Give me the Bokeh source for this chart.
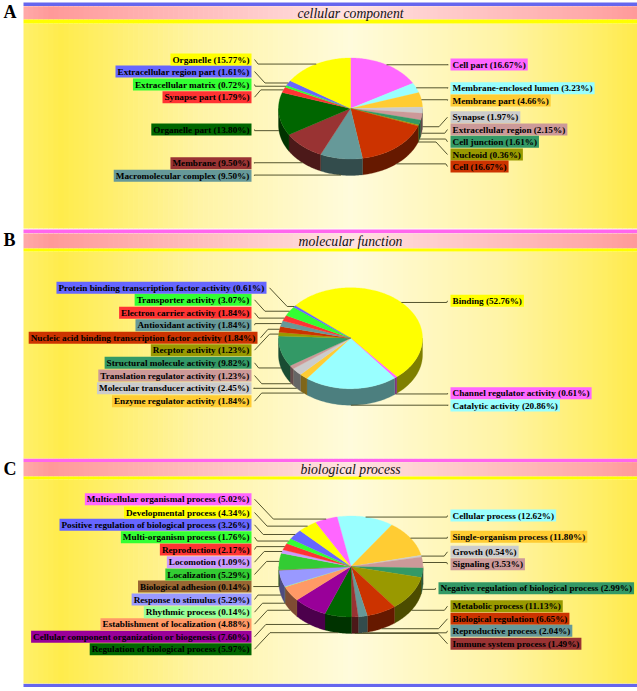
import numpy as np
from bokeh.plotting import figure, ColumnDataSource
from bokeh.models import Range1d
from bokeh.core.properties import value
from bokeh.embed import file_html
from bokeh.resources import INLINE

# ---------- data ----------
cc_names = ["Cell part", "Membrane-enclosed lumen", "Membrane part", "Synapse", "Extracellular region",
            "Cell junction", "Nucleoid", "Cell", "Macromolecular complex", "Membrane", "Organelle part",
            "Synapse part", "Extracellular matrix", "Extracellular region part", "Organelle"]
cc_values = [16.67, 3.23, 4.66, 1.97, 2.15, 1.61, 0.36, 16.67, 9.50, 9.50, 13.80, 1.79, 0.72, 1.61, 15.77]
cc_colors = ["#ff66ff", "#99ffff", "#ffcc33", "#cccccc", "#cc9999", "#339966", "#999900", "#cc3300",
             "#669999", "#993333", "#006600", "#ff3333", "#33ff33", "#6666ff", "#ffff00"]

mf_names = ["Binding", "Channel regulator activity", "Catalytic activity", "Enzyme regulator activity",
            "Molecular transducer activity", "Translation regulator activity", "Structural molecule activity",
            "Recptor activity", "Nucleic acid binding transcription factor activity", "Antioxidant activity",
            "Electron carrier activity", "Transporter activity", "Protein binding transcription factor activity"]
mf_values = [52.76, 0.61, 20.86, 1.84, 2.45, 1.23, 9.82, 1.23, 1.84, 1.84, 1.84, 3.07, 0.61]
mf_colors = ["#ffff00", "#ff66ff", "#99ffff", "#ffcc33", "#cccccc", "#cc9999", "#339966", "#999900",
             "#cc3300", "#669999", "#ff3333", "#33ff33", "#6666ff"]

bp_names = ["Cellular process", "Single-organism process", "Growth", "Signaling",
            "Negative regulation of biological process", "Metabolic process", "Biological regulation",
            "Reproductive process", "Immune system process", "Regulation of biological process",
            "Cellular component organization or biogenesis", "Establishment of localization",
            "Rhythmic process", "Response to stimulus", "Biological adhesion", "Localization", "Locomotion",
            "Reproduction", "Multi-organism process", "Positive regulation of biological process",
            "Developmental process", "Multicellular organismal process"]
bp_values = [12.62, 11.80, 0.54, 3.53, 2.99, 11.13, 6.65, 2.04, 1.49, 5.97, 7.60, 4.88, 0.14, 5.29, 0.14,
             5.29, 1.09, 2.17, 1.76, 3.26, 4.34, 5.02]
bp_colors = ["#99ffff", "#ffcc33", "#cccccc", "#cc9999", "#339966", "#999900", "#cc3300", "#669999",
             "#993333", "#006600", "#990099", "#ff9966", "#99ff99", "#9999ff", "#996633", "#33cc33",
             "#cc99ff", "#ff3333", "#33ff33", "#6666ff", "#ffff00", "#ff66ff"]

titles = ["cellular component", "molecular function", "biological process"]
letters = ["A", "B", "C"]

# ---------- layout (reference pixels) ----------
FONT = "Liberation Serif"
cc_label_y = [64, 87.7, 100, 116.7, 129, 141.3, 154, 166, 175.3, 162.7, 129, 96.7, 84, 71, 59]
mf_label_y = [300.3, 392.7, 405, 400.7, 387.7, 375, 362.3, 349.7, 337.3, 324.7, 312.3, 299.3, 287.3]
bp_label_y = [515, 536.3, 551.3, 563.7, 587.7, 605.7, 618.3, 630.3, 643.3, 648.7, 636.3, 623.7, 611.7,
              599, 586, 574, 561.7, 549, 536.7, 524.3, 512, 498.7]
cc_sides = "R" * 8 + "L" * 7
mf_sides = "RRR" + "L" * 10
bp_sides = "R" * 9 + "L" * 13

panels = [
    dict(vals=cc_values, names=cc_names, cols=cc_colors, ly=cc_label_y, sides=cc_sides, cx=350, cy=108, start=0,
         band=(5.7, 19), strip=(19, 23), body=(23, 228), ty=13, ly_letter=11.5),
    dict(vals=mf_values, names=mf_names, cols=mf_colors, ly=mf_label_y, sides=mf_sides, cx=350, cy=337.7, start=-50,
         band=(233, 248), strip=(248, 251), body=(251, 458), ty=241.3, ly_letter=239),
    dict(vals=bp_values, names=bp_names, cols=bp_colors, ly=bp_label_y, sides=bp_sides, cx=350.4, cy=566, start=-11,
         band=(461.6, 476), strip=(476, 479), body=(479, 683), ty=469.3, ly_letter=468),
]
bar_rows = [(2.0, 5.6, "#6666ee"), (229, 232.7, "#ff66ee"), (458, 461.5, "#ff66ee"), (683.3, 686.6, "#6666ee")]
RX, RY, DEPTH = 72, 50.5, 16.5
LEFT_EDGE, RIGHT_EDGE = 251, 450
LEFT_OVERRIDE = {"Protein binding transcription factor activity": 266,
                 "Nucleic acid binding transcription factor activity": 257}
RIGHT_OVERRIDE = {"Negative regulation of biological process": 438}

p = figure(width=637, height=691, output_backend="svg", toolbar_location=None, min_border=0,
           x_range=Range1d(0, 637), y_range=Range1d(691, 0), outline_line_color=None,
           background_fill_color="white", border_fill_color="white")
p.axis.visible = False
p.grid.visible = False


def hexrgb(h):
    return np.array([int(h[i:i + 2], 16) for i in (1, 3, 5)], float)


def gradient(y0, y1, xs, cols, n=123):
    edges = np.linspace(23, 637, n + 1)
    mids = (edges[:-1] + edges[1:]) / 2
    rgb = np.array([hexrgb(c) for c in cols])
    fills = []
    for m in mids:
        c = [np.interp(m, xs, rgb[:, k]) for k in range(3)]
        fills.append("#%02x%02x%02x" % tuple(int(round(v)) for v in c))
    # slight overlap prevents hairline seams between strips
    p.quad(left=edges[:-1], right=edges[1:] + 0.6, top=[y0] * n, bottom=[y1] * n, fill_color=fills, line_color=None)


panel_x = [23, 60, 200, 350, 500, 600, 637]
panel_c = ["#fff06a", "#ffec4c", "#fff4a6", "#fffbdc", "#fff4a6", "#ffee66", "#ffea4c"]
head_x = [23, 50, 350, 600, 637]
head_c = ["#ffaaaa", "#ff9999", "#ffe2e2", "#ffa6a6", "#ff9999"]

for y0, y1, c in bar_rows:
    p.quad(left=[23], right=[637], top=[y0], bottom=[y1], fill_color=c, line_color=None)

for P, title, letter in zip(panels, titles, letters):
    gradient(*P["body"], panel_x, panel_c)
    gradient(*P["band"], head_x, head_c)
    p.quad(left=[23], right=[637], top=[P["strip"][0]], bottom=[P["strip"][1]], fill_color="#ffff00", line_color=None)
    p.text(x=[350], y=[P["ty"]], text=[title], text_font=value(FONT), text_font_style="italic",
           text_font_size="13.7px", text_align="center", text_baseline="middle", text_color="#111111")
    p.text(x=[3], y=[P["ly_letter"]], text=[letter], text_font=value(FONT), text_font_style="bold",
           text_font_size="18px", text_align="left", text_baseline="middle", text_color="#000000")

    vals = np.array(P["vals"], float)
    frac = vals / vals.sum() * 360.0
    ends = P["start"] + np.cumsum(frac)
    begins = ends - frac
    cx, cy = P["cx"], P["cy"]

    # extruded side (front half only)
    for a0, a1, col in zip(begins, ends, P["cols"]):
        for shift in (-360, 0, 360):
            u0, u1 = max(a0 + shift, 90), min(a1 + shift, 270)
            if u1 > u0:
                t = np.radians(np.linspace(u0, u1, 40))
                xs = cx + RX * np.sin(t)
                ys = cy - RY * np.cos(t)
                px = np.concatenate([xs, xs[::-1]])
                py = np.concatenate([ys, ys[::-1] + DEPTH])
                dark = "#%02x%02x%02x" % tuple(int(v * 0.5) for v in hexrgb(col))
                p.patch(px, py, fill_color=dark, line_color=dark, line_width=0.3)

    # top face
    for a0, a1, col in zip(begins, ends, P["cols"]):
        t = np.radians(np.linspace(a0, a1, max(3, int(a1 - a0) + 2)))
        px = np.concatenate([[cx], cx + RX * np.sin(t)])
        py = np.concatenate([[cy], cy - RY * np.cos(t)])
        p.patch(px, py, fill_color=col, line_color=col, line_width=0.3)

    # leaders and labels
    xs_l, ys_l = [], []
    tx, ty, txt, aligns, cols = [], [], [], [], []
    for name, v, a0, a1, col, ly, side in zip(P["names"], P["vals"], begins, ends, P["cols"], P["ly"], P["sides"]):
        mid = np.radians((a0 + a1) / 2)
        ax = cx + RX * np.sin(mid)
        ay = cy - RY * np.cos(mid) + (DEPTH if np.cos(mid) < 0 else 0)
        if side == "R":
            lx = RIGHT_OVERRIDE.get(name, RIGHT_EDGE)
            ex = max(lx - abs(ly - ay) - 2, ax)
            xs_l.append([ax, ex, lx - 3])
        else:
            lx = LEFT_OVERRIDE.get(name, LEFT_EDGE)
            ex = min(lx + abs(ly - ay) + 2, ax)
            xs_l.append([ax, ex, lx + 3])
        ys_l.append([ay, ay, ly])
        tx.append(lx)
        ty.append(ly)
        txt.append(f"{name} ({v:.2f}%)")
        aligns.append("left" if side == "R" else "right")
        cols.append(col)
    p.multi_line(xs_l, ys_l, line_color="#55552f", line_width=1)
    src = ColumnDataSource(dict(x=tx, y=ty, text=txt, align=aligns, bg=cols))
    p.text(x="x", y="y", text="text", source=src, text_align="align", text_baseline="middle",
           text_font=value(FONT), text_font_style="bold", text_font_size="9.2px", text_color="#000000",
           background_fill_color="bg", padding=(2, 1))

open("out.html", "w").write(file_html(p, INLINE))
